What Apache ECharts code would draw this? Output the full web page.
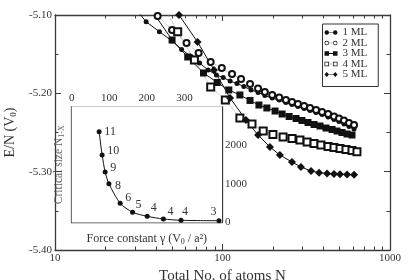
<!DOCTYPE html>
<html>
<head>
<meta charset="utf-8">
<script src="https://cdn.jsdelivr.net/npm/echarts@6/dist/echarts.min.js"></script>
<style>html,body{margin:0;padding:0;background:#fff;}#c{width:409px;height:280px;}</style>
</head>
<body>
<div id="c"></div>
<script>
// ---- main chart data: total number of atoms N vs E/N (V0) ----
const nML1 = [30,35,42,50,57,65,73,82,92,101,111,122,134,148,163,179,198,218,239,260,282,307,333,362,393,427,463,496,531,569,610];
const eML1 = [-5.0911,-5.1086,-5.1213,-5.1332,-5.1440,-5.1530,-5.1613,-5.1702,-5.1766,-5.1798,-5.1843,-5.1874,-5.1913,-5.1957,-5.1989,-5.2028,-5.2060,-5.2085,-5.2117,-5.2143,-5.2168,-5.2194,-5.2219,-5.2245,-5.2270,-5.2302,-5.2334,-5.2360,-5.2391,-5.2423,-5.2455];
const nML2 = [41,50,61,72,85,99,114,129,146,163,179,198,218,239,260,282,307,333,362,393,427,463,496,531,569,610];
const eML2 = [-5.1013,-5.1191,-5.1357,-5.1485,-5.1600,-5.1677,-5.1753,-5.1817,-5.1881,-5.1938,-5.1983,-5.2021,-5.2053,-5.2085,-5.2111,-5.2136,-5.2162,-5.2187,-5.2213,-5.2238,-5.2264,-5.2296,-5.2321,-5.2347,-5.2379,-5.2404];
const nML3 = [37,50,62,77,93,109,127,146,165,184,206,227,250,275,298,324,352,382,415,451,483,517,554,593];
const eML3 = [-5.0911,-5.1319,-5.1536,-5.1740,-5.1862,-5.1957,-5.2021,-5.2091,-5.2149,-5.2187,-5.2226,-5.2264,-5.2296,-5.2321,-5.2347,-5.2372,-5.2398,-5.2417,-5.2443,-5.2462,-5.2481,-5.2500,-5.2519,-5.2532];
const nML4 = [45,54,68,85,104,127,150,175,200,230,260,290,320,352,387,427,463,503,546,593,635];
const eML4 = [-5.0911,-5.1213,-5.1574,-5.1919,-5.2085,-5.2315,-5.2391,-5.2481,-5.2526,-5.2557,-5.2577,-5.2596,-5.2621,-5.2640,-5.2660,-5.2679,-5.2691,-5.2704,-5.2717,-5.2730,-5.2745];
const nML5 = [55,71,89,111,138,163,192,220,260,294,338,377,421,463,503,554,610];
const eML5 = [-5.1000,-5.1345,-5.1702,-5.2060,-5.2340,-5.2532,-5.2685,-5.2787,-5.2877,-5.2940,-5.2991,-5.3013,-5.3023,-5.3030,-5.3034,-5.3036,-5.3039];
const seriesNames = ['1 ML','2 ML','3 ML','4 ML','5 ML'];

// ---- inset data: force constant gamma vs critical size ----
const gammaVals = [73,81,89,99,129,162,201,244,291,392];
const critSize = [2358,1753,1312,1008,499,265,161,91,57,47];
const critLabels = ['11','10','9','8','6','5','4','4','4','3'];

// ---- tick values ----
const xMajorTicks = [10,100,1000];
const xMinorTicks = [20,30,40,50,60,70,80,90,200,300,400,500,600,700,800,900];

// ---- styles (not data) ----
const labelOffsets = [[11,0],[11,-4],[8,-4],[9,2],[8,-5],[6,-7],[6.5,-8],[7,-7],[4,-8],[-5.5,-9]];
const FONT = "'Liberation Serif','Times New Roman',serif";
const AX = '#3a3a3a';
const TXT = '#333';

const zip = (a,b) => a.map((v,i)=>[v,b[i]]);

const icons = {
  c: 'path://M0,5a4.5,4.5 0 1,0 9,0a4.5,4.5 0 1,0 -9,0Z M17,5a4.5,4.5 0 1,0 9,0a4.5,4.5 0 1,0 -9,0Z M9,4.3H17V5.7H9Z',
  oc: 'path://M0,5a4.5,4.5 0 1,0 9,0a4.5,4.5 0 1,0 -9,0Z M1.3,5a3.2,3.2 0 1,1 6.4,0a3.2,3.2 0 1,1 -6.4,0Z M17,5a4.5,4.5 0 1,0 9,0a4.5,4.5 0 1,0 -9,0Z M18.3,5a3.2,3.2 0 1,1 6.4,0a3.2,3.2 0 1,1 -6.4,0Z M10,4.4H11.4V5.6H10Z M12.3,4.4H13.7V5.6H12.3Z M14.6,4.4H16V5.6H14.6Z',
  s: 'path://M0,0.5H9V9.5H0Z M17,0.5H26V9.5H17Z M9,4H17V6H9Z',
  os: 'path://M0,0.5H9V9.5H0Z M1.4,1.9V8.1H7.6V1.9Z M17,0.5H26V9.5H17Z M18.4,1.9V8.1H24.6V1.9Z M10,4.4H11.4V5.6H10Z M12.3,4.4H13.7V5.6H12.3Z M14.6,4.4H16V5.6H14.6Z',
  d: 'path://M4.5,0L9,5L4.5,10L0,5Z M21.5,0L26,5L21.5,10L17,5Z M9,4.3H17V5.7H9Z'
};

const chart = echarts.init(document.getElementById('c'), null, {renderer:'canvas'});

const logAxis = (pos, ticks, len, showLine, labels) => ({
  type:'log', logBase:10, min:10, max:1000, gridIndex:0, position:pos,
  axisLine:{show:showLine, onZero:false, lineStyle:{color:AX, width:1.3}},
  axisTick:{show:true, inside:true, length:len, customValues:ticks, lineStyle:{color:AX, width:1}},
  axisLabel: labels ? {show:true, customValues:xMajorTicks, color:TXT, fontFamily:FONT, fontSize:11, margin:3, formatter:v => String(v)} : {show:false},
  splitLine:{show:false}
});

const lineSeries = (name, xs, ys, symbol, size, solid) => ({
  name, type:'line', xAxisIndex:0, yAxisIndex:0,
  data: zip(xs, ys),
  symbol, symbolSize:size,
  clip:true,
  lineStyle: solid ? {color:'#111', width:1} : {color:'#888', width:0.8, type:'dotted'},
  itemStyle:{color:'#111', borderColor:'#111', borderWidth: symbol.startsWith('empty') ? 1 : 0},
  emphasis:{disabled:true},
  animation:false, z:3
});

const option = {
  animation:false,
  backgroundColor:'#fff',
  grid:[
    {left:55, right:19, top:15, bottom:30, show:false, containLabel:false, outerBoundsMode:'none'},
    {left:71.7, top:107, width:150.3, height:115.5, show:true, backgroundColor:'#fff', borderWidth:0, z:1, containLabel:false, outerBoundsMode:'none'}
  ],
  legend:{
    orient:'vertical', left:322.5, top:24,
    itemWidth:13, itemHeight:5, itemGap:-0.5, itemTextGap:2,
    padding:[3,11,6.5,2],
    borderColor:'#333', borderWidth:1,
    backgroundColor:'#fff',
    textStyle:{fontFamily:FONT, fontSize:11, color:TXT, lineHeight:10},
    selectedMode:false,
    data:[
      {name:'1 ML', icon:icons.c, itemStyle:{color:'#111', borderWidth:0}},
      {name:'2 ML', icon:icons.oc, itemStyle:{color:'#111', borderWidth:0}},
      {name:'3 ML', icon:icons.s, itemStyle:{color:'#111', borderWidth:0}},
      {name:'4 ML', icon:icons.os, itemStyle:{color:'#111', borderWidth:0}},
      {name:'5 ML', icon:icons.d, itemStyle:{color:'#111', borderWidth:0}}
    ]
  },
  xAxis:[
    Object.assign(logAxis('bottom', xMajorTicks, 6, true, true), {
      name:'Total No. of atoms N', nameLocation:'middle', nameGap:14,
      nameTextStyle:{fontFamily:FONT, fontSize:15, color:TXT}
    }),
    logAxis('bottom', xMinorTicks, 3.5, false, false),
    logAxis('top', xMajorTicks, 6, true, false),
    logAxis('top', xMinorTicks, 3.5, false, false),
    {
      type:'value', gridIndex:1, position:'top', min:0, max:400, interval:50,
      axisLine:{show:true, onZero:false, lineStyle:{color:AX, width:1.3}},
      axisTick:{show:true, inside:true, length:4, lineStyle:{color:AX}},
      axisLabel:{show:true, margin:3, color:TXT, fontFamily:FONT, fontSize:11,
        formatter:v => (v % 100 === 0 && v < 400) ? String(v) : ''},
      splitLine:{show:false}
    },
    {
      type:'value', gridIndex:1, position:'bottom', min:0, max:400, interval:50,
      axisLine:{show:true, onZero:false, lineStyle:{color:AX, width:1.3}},
      axisTick:{show:true, inside:true, length:4, lineStyle:{color:AX}},
      axisLabel:{show:false},
      splitLine:{show:false},
      name:'Force constant γ (V{s|0} / a²)', nameLocation:'middle', nameGap:9,
      nameTextStyle:{fontFamily:FONT, fontSize:12, color:TXT, verticalAlign:'top', lineHeight:14,
        rich:{s:{fontFamily:FONT, fontSize:8, color:TXT, verticalAlign:'bottom', lineHeight:8}}}
    }
  ],
  yAxis:[
    {
      type:'value', gridIndex:0, position:'left', min:-5.4, max:-5.1, interval:0.1,
      axisLine:{show:true, onZero:false, lineStyle:{color:AX, width:1.3}},
      axisTick:{show:true, inside:true, length:6, lineStyle:{color:AX}},
      minorTick:{show:true, splitNumber:2, length:3.5, lineStyle:{color:AX}},
      axisLabel:{show:true, margin:3, color:TXT, fontFamily:FONT, fontSize:11, formatter:v => v.toFixed(2)},
      splitLine:{show:false},
      name:'E/N (V{s|0})', nameLocation:'middle', nameGap:36,
      nameTextStyle:{fontFamily:FONT, fontSize:14, color:TXT, lineHeight:16,
        rich:{s:{fontFamily:FONT, fontSize:9, color:TXT, verticalAlign:'bottom', lineHeight:9}}}
    },
    {
      type:'value', gridIndex:0, position:'right', min:-5.4, max:-5.1, interval:0.1,
      axisLine:{show:true, onZero:false, lineStyle:{color:AX, width:1.3}},
      axisTick:{show:true, inside:true, length:6, lineStyle:{color:AX}},
      minorTick:{show:true, splitNumber:2, length:3.5, lineStyle:{color:AX}},
      axisLabel:{show:false},
      splitLine:{show:false}
    },
    {
      type:'value', gridIndex:1, position:'left', min:0, max:3000, interval:500,
      axisLine:{show:true, onZero:false, lineStyle:{color:AX, width:1.3}},
      axisTick:{show:true, inside:true, length:4, lineStyle:{color:AX}},
      axisLabel:{show:false},
      splitLine:{show:false},
      name:'Critical size N{s|1-X}', nameLocation:'middle', nameGap:6,
      nameTextStyle:{fontFamily:FONT, fontSize:11.5, color:'#666', lineHeight:13,
        rich:{s:{fontFamily:FONT, fontSize:8, color:'#666', verticalAlign:'bottom', lineHeight:8}}}
    },
    {
      type:'value', gridIndex:1, position:'right', min:0, max:3000, interval:500,
      axisLine:{show:true, onZero:false, lineStyle:{color:AX, width:1.3}},
      axisTick:{show:true, inside:true, length:4, lineStyle:{color:AX}},
      axisLabel:{show:true, margin:3, color:TXT, fontFamily:FONT, fontSize:11,
        formatter:v => (v % 1000 === 0 && v < 3000) ? String(v) : ''},
      splitLine:{show:false}
    }
  ],
  series:[
    lineSeries(seriesNames[0], nML1, eML1, 'circle', 5, true),
    lineSeries(seriesNames[1], nML2, eML2, 'emptyCircle', 6, false),
    lineSeries(seriesNames[2], nML3, eML3, 'rect', 7, true),
    lineSeries(seriesNames[3], nML4, eML4, 'emptyRect', 7, false),
    lineSeries(seriesNames[4], nML5, eML5, 'diamond', 8, true),
    {
      name:'inset', type:'line', xAxisIndex:4, yAxisIndex:2,
      data: gammaVals.map((g,i)=>({
        value:[g, critSize[i]],
        label:{show:true, position:'inside', offset:labelOffsets[i], formatter:critLabels[i]}
      })),
      symbol:'circle', symbolSize:5, smooth:0.25,
      lineStyle:{color:'#111', width:1},
      itemStyle:{color:'#111'},
      label:{color:TXT, fontFamily:FONT, fontSize:12},
      emphasis:{disabled:true},
      z:5
    }
  ]
};
chart.setOption(option);
</script>
</body>
</html>
